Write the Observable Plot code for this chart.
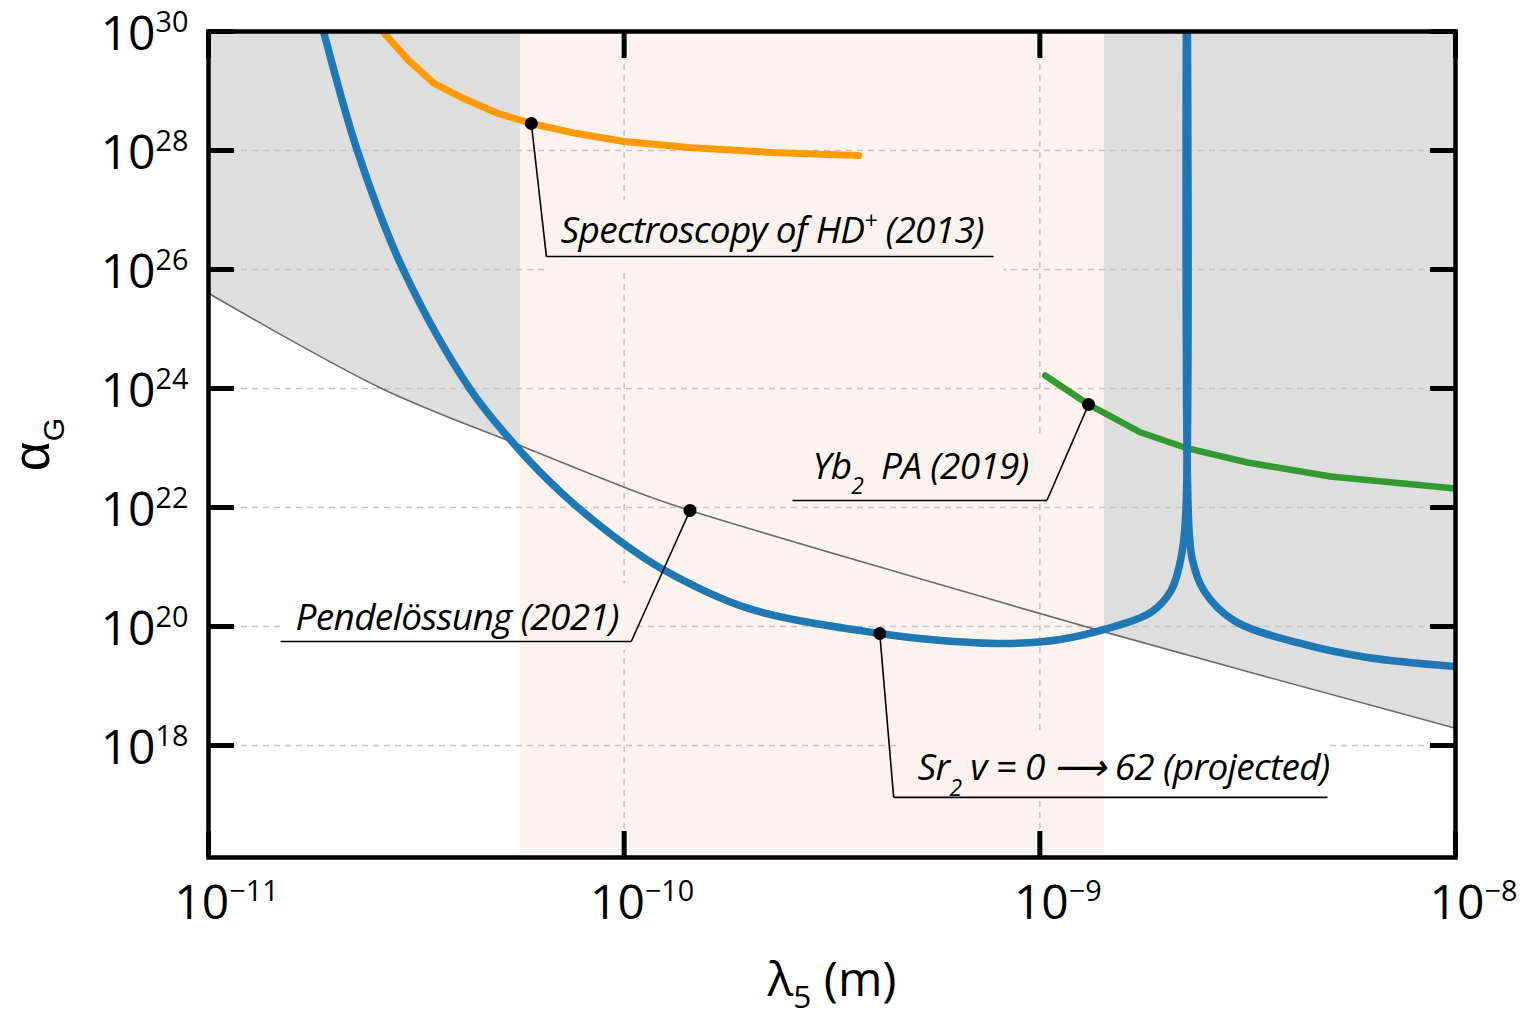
<!DOCTYPE html>
<html>
<head>
<meta charset="utf-8">
<script src="https://cdn.jsdelivr.net/npm/d3@7"></script>
<script src="https://cdn.jsdelivr.net/npm/@observablehq/plot@0.6"></script>
<style>
  body { margin: 0; background: #fff; }
  #chart svg { display: block; }
</style>
</head>
<body>
<div id="chart"></div>
<script>
// Sr2 v = 0 -> 62 projected sensitivity (lambda5 in m, alphaG), two branches meeting at the resonance
const srLeftLambda = [1.83e-11, 1.89e-11, 2.28e-11, 2.94e-11, 4.25e-11, 5.42e-11, 6.61e-11, 7.64e-11,
  9.80e-11, 1.24e-10, 1.99e-10, 4.12e-10, 5.78e-10, 8.38e-10, 1.12e-9, 1.43e-9, 1.85e-9, 2.07e-9,
  2.18e-9, 2.24e-9, 2.256e-9];
const srLeftAlpha = [2.2e30, 1e30, 1e28, 1e26, 1e24, 1.19e23, 2.74e22, 1.08e22,
  2.69e21, 9.08e20, 2.01e20, 7.62e19, 5.82e19, 5.18e19, 6.05e19, 8.91e19, 1.72e20, 4.03e20,
  1.29e21, 6.03e21, 1e32];
const srRightLambda = [2.256e-9, 2.28e-9, 2.33e-9, 2.48e-9, 2.93e-9, 4.24e-9, 6.14e-9, 1e-8];
const srRightAlpha = [1e32, 6.03e21, 1.29e21, 4.03e20, 1.26e20, 5.18e19, 3.01e19, 2.13e19];

// Spectroscopy of HD+ (2013)
const hdLambda = [2.52e-11, 2.65e-11, 3.03e-11, 3.49e-11, 4.06e-11, 4.98e-11, 5.98e-11, 7.46e-11,
  1.0e-10, 1.43e-10, 2.26e-10, 3.67e-10];
const hdAlpha = [1.86e30, 9.25e29, 3.26e29, 1.34e29, 7.78e28, 4.19e28, 2.84e28, 2.01e28,
  1.42e28, 1.12e28, 9.25e27, 8.24e27];

// Yb2 photoassociation (2019)
const ybLambda = [1.03e-9, 1.31e-9, 1.75e-9, 2.27e-9, 3.16e-9, 5.01e-9, 1e-8];
const ybAlpha = [1.65e24, 5.38e23, 1.82e23, 9.82e22, 5.70e22, 3.32e22, 2.08e22];

// Pendellösung (2021) exclusion boundary
const boundLambda = [1e-11, 2.61e-11, 5.45e-11, 1.16e-10, 1.44e-10, 1.48e-9, 1e-8];
const boundAlpha = [3.98e25, 1e24, 1.20e23, 1.48e22, 8.91e21, 7.59e19, 1.95e18];

// highlighted wavelength window
const bandLo = 5.63e-11, bandHi = 1.43e-9;

// axis ticks
const xTicks = [1e-11, 1e-10, 1e-9, 1e-8];
const yTicks = [1e18, 1e20, 1e22, 1e24, 1e26, 1e28, 1e30];
const xDomain = [1e-11, 1e-8];
const yDomain = [1.31e16, 1e30];

// annotations: marker on a curve, leader elbow, underline end, label position
const noteText = ["Spectroscopy of HD^{+} (2013)", "Yb_{2}  PA (2019)", "Pendelössung (2021)", "Sr_{2} v = 0 ⟶ 62 (projected)"];
const noteDotX = [5.98e-11, 1.31e-9, 1.44e-10, 4.12e-10];
const noteDotY = [2.84e28, 5.38e23, 8.91e21, 7.62e19];
const noteElbowX = [6.50e-11, 1.04e-9, 1.04e-10, 4.45e-10];
const noteLineY = [1.65e26, 1.31e22, 5.60e19, 1.34e17];
const noteEndX = [7.74e-10, 2.54e-10, 1.49e-11, 4.92e-9];
const noteTextX = [7.03e-11, 2.84e-10, 1.62e-11, 5.08e-10];
const noteTextY = [2.74e26, 3.07e22, 8.57e19, 2.58e17];
// label background boxes
const noteBoxX1 = [6.54e-11, 2.54e-10, 1.50e-11, 4.62e-10];
const noteBoxX2 = [8.18e-10, 1.04e-9, 1.08e-10, 4.92e-9];
const noteBoxY1 = [8.91e25, 1.31e22, 3.95e19, 1.34e17];
const noteBoxY2 = [1.45e27, 1.50e23, 5.28e20, 1.47e18];

// ---- build tables ----
const rows = (xs, ys, branch) => xs.map((x, i) => ({x, y: ys[i], branch}));
const sr = [...rows(srLeftLambda, srLeftAlpha, "left"), ...rows(srRightLambda, srRightAlpha, "right")];
const hd = rows(hdLambda, hdAlpha);
const yb = rows(ybLambda, ybAlpha);
const bound = rows(boundLambda, boundAlpha);

const notes = noteText.map((text, i) => ({
  text, dx: noteDotX[i], dy: noteDotY[i], ex: noteElbowX[i], ly: noteLineY[i],
  endx: noteEndX[i], tx: noteTextX[i], ty: noteTextY[i]
}));

const grayFill = "#dedede";
const bandFill = "#fdf3ee";
const blue = "#1f77b4", orange = "#ff9a00", green = "#339a33";

// split each label box by the band so it takes the colour behind it
const masks = [];
noteBoxX1.forEach((x1, i) => {
  const x2 = noteBoxX2[i], y1 = noteBoxY1[i], y2 = noteBoxY2[i];
  const cuts = [
    [x1, Math.min(x2, bandLo), "white"],
    [Math.max(x1, bandLo), Math.min(x2, bandHi), bandFill],
    [Math.max(x1, bandHi), x2, "white"]
  ];
  for (const [a, b, fill] of cuts) if (b > a) masks.push({x1: a, x2: b, y1, y2, fill});
});

const expLabel = d => `10^{${Math.round(Math.log10(d))}}`.replace("-", "\u2212");
const gridStyle = {stroke: "#c4c4c4", strokeOpacity: 1, strokeWidth: 1.5, strokeDasharray: "6,5"};
const tickStyle = {tickSize: -26, stroke: "black", strokeWidth: 5, fill: "none", label: null};

const chart = Plot.plot({
  width: 1534,
  height: 1014,
  marginLeft: 208,
  marginRight: 79,
  marginTop: 31,
  marginBottom: 157,
  style: {fontFamily: "'Open Sans', 'Noto Sans', sans-serif", background: "white", overflow: "visible"},
  x: {type: "log", domain: xDomain},
  y: {type: "log", domain: yDomain},
  marks: [
    // excluded region above the bound
    Plot.areaY(bound, {x: "x", y1: "y", y2: 1e30, curve: "catmull-rom", fill: grayFill}),
    // wavelength window
    Plot.rect([{x1: bandLo, x2: bandHi}], {x1: "x1", x2: "x2", fill: bandFill}),
    // dashed grid
    Plot.gridY(yTicks.slice(0, -1), gridStyle),
    Plot.gridX(xTicks.slice(1, -1), gridStyle),
    // label backgrounds
    Plot.rect(masks, {x1: "x1", x2: "x2", y1: "y1", y2: "y2", fill: "fill"}),
    // bound line
    Plot.line(bound, {x: "x", y: "y", curve: "catmull-rom", stroke: "#6b6b6b", strokeWidth: 1.6}),
    // curves
    Plot.line(hd, {x: "x", y: "y", stroke: orange, strokeWidth: 7, clip: true}),
    Plot.line(yb, {x: "x", y: "y", stroke: green, strokeWidth: 6.5, clip: true}),
    Plot.line(sr, {x: "x", y: "y", z: "branch", curve: "catmull-rom", stroke: blue, strokeWidth: 7.5, clip: true}),
    // leaders
    Plot.link(notes, {x1: "dx", y1: "dy", x2: "ex", y2: "ly", stroke: "black", strokeWidth: 1.6}),
    Plot.link(notes, {x1: "ex", y1: "ly", x2: "endx", y2: "ly", stroke: "black", strokeWidth: 1.6}),
    Plot.dot(notes, {x: "dx", y: "dy", r: 6.5, fill: "black"}),
    Plot.text(notes, {x: "tx", y: "ty", text: "text", textAnchor: "start", lineAnchor: "bottom",
      fontStyle: "italic", fontSize: 37, fill: "black", ariaDescription: "note"}),
    // frame and inward ticks
    Plot.frame({stroke: "black", strokeWidth: 4.5}),
    Plot.axisY(yTicks, {anchor: "left", ...tickStyle}),
    Plot.axisY(yTicks, {anchor: "right", ...tickStyle}),
    Plot.axisX(xTicks, {anchor: "bottom", ...tickStyle}),
    Plot.axisX(xTicks, {anchor: "top", ...tickStyle}),
    // tick labels
    Plot.text(yTicks, {y: d => d, text: expLabel, frameAnchor: "left", textAnchor: "end",
      lineAnchor: "middle", dx: -20, dy: 3, fontSize: 48, fill: "black", ariaDescription: "tick"}),
    Plot.text(xTicks, {x: d => d, text: expLabel, frameAnchor: "bottom", textAnchor: "middle",
      lineAnchor: "bottom", dx: 18, dy: 61, fontSize: 48, fill: "black", ariaDescription: "tick"}),
    // axis titles
    Plot.text(["λ_{5} (m)"], {text: d => d, frameAnchor: "bottom", textAnchor: "middle",
      lineAnchor: "bottom", dy: 138, fontSize: 48, fill: "black", ariaDescription: "xlabel"}),
    Plot.text(["α_{G}"], {text: d => d, frameAnchor: "left", textAnchor: "middle", rotate: -90,
      lineAnchor: "bottom", dx: -160, fontSize: 52, fontFamily: "'Liberation Sans', sans-serif",
      fill: "black", ariaDescription: "ylabel"})
  ]
});

document.getElementById("chart").append(chart);

// turn ^{..} and _{..} markup into raised / lowered tspans
function richText(svg, tag, {scale, sup = 0.38, sub = 0.35}) {
  const ns = "http://www.w3.org/2000/svg";
  svg.querySelectorAll(`g[aria-description="${tag}"] text`).forEach(t => {
    const s = t.textContent;
    if (!/[_^]\{/.test(s)) return;
    const fs = parseFloat(getComputedStyle(t).fontSize);
    const parts = [];
    const re = /([_^])\{([^}]*)\}/g;
    let last = 0, m;
    while ((m = re.exec(s))) {
      if (m.index > last) parts.push({txt: s.slice(last, m.index), kind: ""});
      parts.push({txt: m[2], kind: m[1]});
      last = re.lastIndex;
    }
    if (last < s.length) parts.push({txt: s.slice(last), kind: ""});
    t.textContent = "";
    let shift = 0;
    for (const p of parts) {
      const ts = document.createElementNS(ns, "tspan");
      let target = 0;
      if (p.kind === "^") target = -sup * fs;
      if (p.kind === "_") target = sub * fs;
      if (p.kind) ts.setAttribute("font-size", (scale * fs).toFixed(1));
      const d = target - shift;
      if (d) ts.setAttribute("dy", d.toFixed(1));
      shift = target;
      ts.textContent = p.txt;
      t.appendChild(ts);
    }
  });
}
richText(chart, "tick", {scale: 0.6, sup: 0.375});
richText(chart, "note", {scale: 0.62, sup: 0.4, sub: 0.42});
richText(chart, "xlabel", {scale: 0.66, sub: 0.26});
richText(chart, "ylabel", {scale: 0.58, sub: 0.3});

// the italic labels are set slightly tight
chart.querySelector('g[aria-description="note"]').setAttribute("letter-spacing", "-0.7");
</script>
</body>
</html>
